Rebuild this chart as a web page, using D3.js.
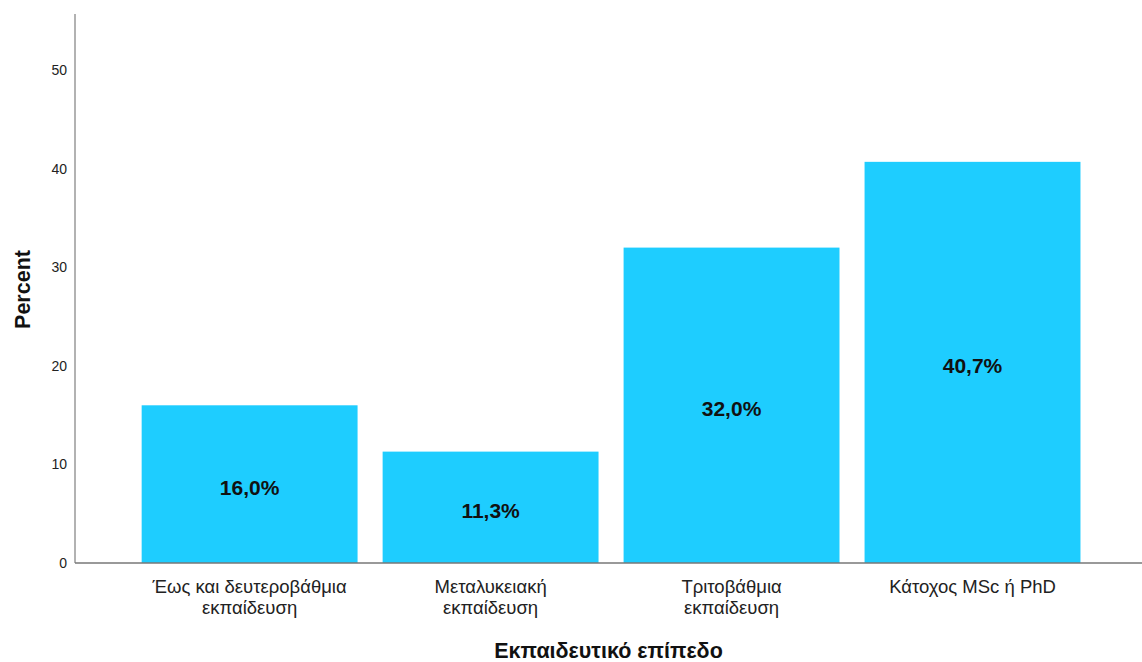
<!DOCTYPE html>
<head>
  <meta charset="utf-8">
  <script src="https://d3js.org/d3.v7.min.js"></script>
</head>
<style>
  body { margin: 0; background: #fff; }
  text { font-family: "Liberation Sans", Arial, sans-serif; }
</style>
<body>
<div id="chart"></div>
<script>
'use strict';

var categories = ["Έως και δευτεροβάθμια\nεκπαίδευση", "Μεταλυκειακή\nεκπαίδευση", "Τριτοβάθμια\nεκπαίδευση", "Κάτοχος MSc ή PhD"];
var percents = [16.0, 11.3, 32.0, 40.7];
var yTicks = [0, 10, 20, 30, 40, 50];

var width = 1142, height = 662;
var plot = {left: 75, right: 1142, top: 14, bottom: 563};

var svg = d3.select("#chart").append("svg")
  .attr("width", width).attr("height", height);

var x = d3.scaleBand().domain(categories).range([plot.left, plot.right])
  .paddingInner(0.104).paddingOuter(0.266).align(0.52);
var y = d3.scaleLinear().domain([0, 55.7]).range([plot.bottom, plot.top]);

// bars
svg.append("g").selectAll("rect").data(percents).enter().append("rect")
  .attr("x", (d, i) => x(categories[i]))
  .attr("y", d => y(d))
  .attr("width", x.bandwidth())
  .attr("height", d => y(0) - y(d))
  .attr("fill", "#1ecdff");

// value labels
svg.append("g").selectAll("text").data(percents).enter().append("text")
  .attr("x", (d, i) => x(categories[i]) + x.bandwidth() / 2)
  .attr("y", d => (y(d) + y(0)) / 2)
  .attr("dy", "0.52em")
  .attr("text-anchor", "middle")
  .style("font-size", "21px").style("font-weight", "bold").attr("fill", "#111")
  .text(d => d.toFixed(1).replace(".", ",") + "%");

// y axis
var yAxis = svg.append("g").attr("transform", "translate(" + plot.left + ",0)")
  .call(d3.axisLeft(y).tickValues(yTicks).tickSize(0).tickPadding(8));
yAxis.select(".domain").attr("stroke", "#999").attr("stroke-width", 1.5)
  .attr("d", "M0," + plot.top + "V" + plot.bottom);
yAxis.selectAll("text").style("font-size", "14px").attr("fill", "#222")
  .style("font-family", "Liberation Sans, Arial, sans-serif");

// x axis
var xAxis = svg.append("g").attr("transform", "translate(0," + plot.bottom + ")")
  .call(d3.axisBottom(x).tickSize(0).tickFormat(""));
xAxis.select(".domain").attr("stroke", "#777").attr("stroke-width", 1.5)
  .attr("d", "M" + plot.left + ",0H" + plot.right);

xAxis.selectAll(".tick").each(function(d) {
  var t = d3.select(this).append("text")
    .attr("text-anchor", "middle").attr("fill", "#222")
    .style("font-size", "18.5px");
  d.split("\n").forEach(function(line, i) {
    t.append("tspan").attr("x", 0).attr("y", 30 + i * 21).text(line);
  });
});

// titles
svg.append("text")
  .attr("x", (plot.left + plot.right) / 2).attr("y", 658)
  .attr("text-anchor", "middle")
  .style("font-size", "21.5px").style("font-weight", "bold").attr("fill", "#111")
  .text("Εκπαιδευτικό επίπεδο");

svg.append("text")
  .attr("transform", "translate(30," + ((plot.top + plot.bottom) / 2 + 1) + ") rotate(-90)")
  .attr("text-anchor", "middle")
  .style("font-size", "21.5px").style("font-weight", "bold").attr("fill", "#111")
  .text("Percent");
</script>
</body>
